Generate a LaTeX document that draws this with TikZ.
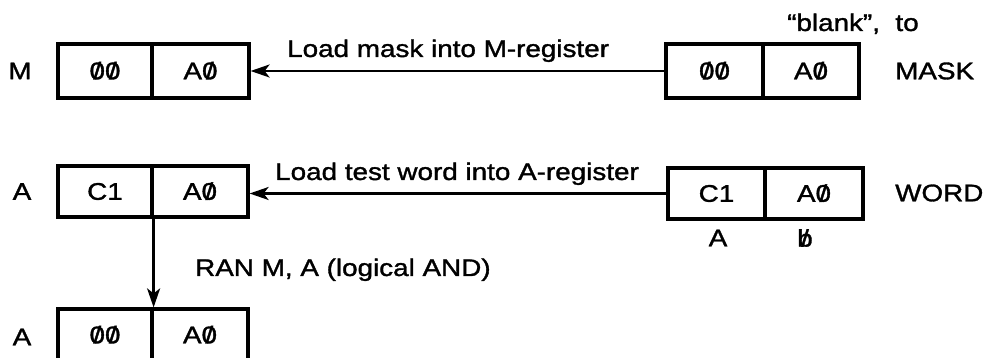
\documentclass[tikz,border=0pt]{standalone}
\usepackage{fontspec}
\setmainfont{Liberation Sans}[FakeStretch=1.16,FakeBold=1.4]
\usetikzlibrary{arrows.meta}
\newcommand\zs{{\ooalign{0\cr\hidewidth/\hidewidth\cr}}}
\newcommand\bs{{\ooalign{b\cr\hidewidth/\hidewidth\cr}}}
\begin{document}
\begin{tikzpicture}[x=1pt,y=1pt,
  every node/.style={font=\fontsize{24}{28}\selectfont, inner sep=0pt},
  cell/.style={draw, line width=3.2pt, minimum height=#1, anchor=center},
  cell/.default=54pt,
  arr/.style={line width=2.4pt, -{Stealth[length=19pt,width=13pt,inset=5pt]}}]
\useasboundingbox (0,0) rectangle (988,358);
% M register
\node[cell, minimum width=94pt] (m1) at (105,287) {\zs\zs};
\node[cell, minimum width=97pt] (m2) at (200.5,287) {A\zs};
\node (mlab) at (20,287) {M};
% MASK
\node[cell, minimum width=97pt] (k1) at (714.5,287) {\zs\zs};
\node[cell, minimum width=96pt] (k2) at (811,287) {A\zs};
\node[anchor=west] (klab) at (895,287) {MASK};
\node[anchor=base west] (blank) at (787,327) {“blank”,\ \ to};
% A register
\node[cell=51pt, minimum width=94pt] (a1) at (105,166.5) {C1};
\node[cell=51pt, minimum width=96pt] (a2) at (200,166.5) {A\zs};
\node (alab) at (22,166.5) {A};
% WORD
\node[cell=51pt, minimum width=97pt] (w1) at (716.5,164.5) {C1};
\node[cell=51pt, minimum width=98pt] (w2) at (814,164.5) {A\zs};
\node[anchor=west] (wlab) at (895,165) {WORD};
\node (wa) at (718,120) {A};
\node (wb) at (805,120) {\bs};
% result A
\node[cell=52pt, minimum width=94pt] (b1) at (105,23) {\zs\zs};
\node[cell=52pt, minimum width=96pt] (b2) at (200,23) {A\zs};
\node (blab) at (22,21) {A};
% connectors
\draw[arr] (k1.west) -- (m2.east);
\node[anchor=base west] (t1) at (287,301) {Load mask into M-register};
\coordinate (wleft) at (w1.west);
\draw[arr] (wleft) -- (wleft -| a2.east);
\node[anchor=base west] (t2) at (275,178) {Load test word into A-register};
\draw[arr] (a1.south east) -- (b1.north east);
\node[anchor=base west] (t3) at (195,82) {RAN M, A (logical AND)};
\end{tikzpicture}
\end{document}
